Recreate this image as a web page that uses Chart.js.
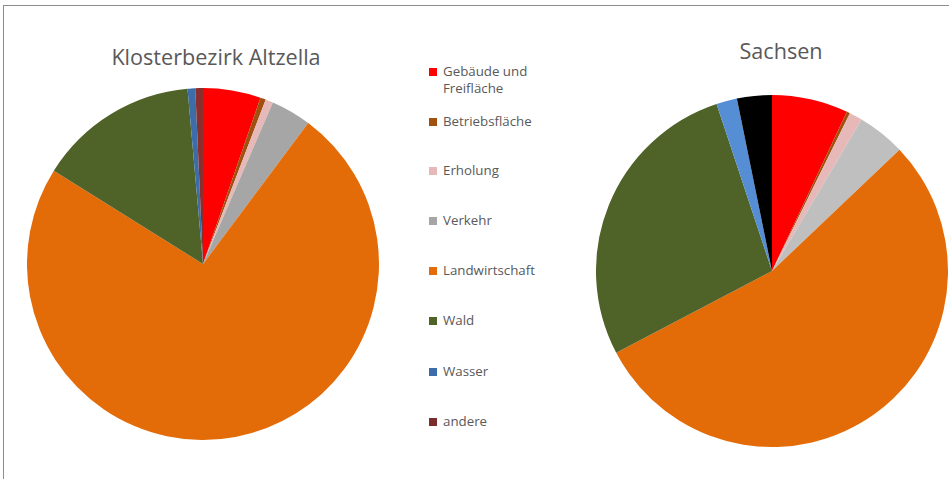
<!DOCTYPE html>
<html>
<head>
<meta charset="utf-8">
<script src="https://cdn.jsdelivr.net/npm/chart.js@4.4.1/dist/chart.umd.min.js"></script>
<style>
  html, body { margin: 0; padding: 0; background: #fff; width: 949px; height: 479px; overflow: hidden; }
  #frame { position: absolute; left: 3px; top: 5px; width: 960px; height: 490px; border-left: 1px solid #8c8c8c; border-top: 1px solid #8c8c8c; }
  .title { position: absolute; font-family: "Open Sans", Lato, sans-serif; font-size: 21.6px; color: #595959; white-space: nowrap; transform: translateX(-50%); }
  .pie { position: absolute; }
  #legend { position: absolute; left: 429px; top: 0; font-family: "Open Sans", Lato, sans-serif; font-size: 13.3px; color: #595959; }
  .item { position: absolute; left: 0; white-space: nowrap; line-height: 17px; }
  .sw { position: absolute; left: 0; top: 5px; width: 8px; height: 8px; }
  .lbl { position: absolute; left: 14px; top: 0; }
</style>
</head>
<body>
<div id="frame"></div>
<div class="title" id="t1" style="left:216px; top:42px;"></div>
<div class="title" id="t2" style="left:781px; top:36px;"></div>
<canvas id="c1" class="pie" width="352" height="352" style="left:27px; top:88px; width:352px; height:352px;"></canvas>
<canvas id="c2" class="pie" width="352" height="352" style="left:596px; top:95px; width:352px; height:352px;"></canvas>
<div id="legend"></div>
<script>
const categories = ["Gebäude und Freifläche", "Betriebsfläche", "Erholung", "Verkehr", "Landwirtschaft", "Wald", "Wasser", "andere"];
const legendLines = [["Gebäude und", "Freifläche"], ["Betriebsfläche"], ["Erholung"], ["Verkehr"], ["Landwirtschaft"], ["Wald"], ["Wasser"], ["andere"]];
const titles = ["Klosterbezirk Altzella", "Sachsen"];
const altzella = [5.3, 0.5, 0.7, 3.7, 73.7, 14.7, 0.7, 0.7];
const sachsen = [7.0, 0.3, 1.2, 4.4, 54.4, 27.6, 1.9, 3.2];
const colorsLeft = ["#FF0000", "#A0500F", "#E6B9B8", "#A6A6A6", "#E36C09", "#4F6228", "#3C6DA8", "#8B2E2E"];
const colorsRight = ["#FF0000", "#A0500F", "#E6B9B8", "#BFBFBF", "#E36C09", "#4F6228", "#558ED5", "#000000"];
const legendColors = ["#FF0000", "#A0500F", "#E6B9B8", "#A6A6A6", "#E36C09", "#4F6228", "#3C6DA8", "#7B2C2C"];
const legendTops = [63, 113, 162, 212, 262, 312, 363, 413];

document.getElementById('t1').textContent = titles[0];
document.getElementById('t2').textContent = titles[1];

const leg = document.getElementById('legend');
categories.forEach((c, i) => {
  const d = document.createElement('div');
  d.className = 'item';
  d.style.top = legendTops[i] + 'px';
  const sw = document.createElement('div');
  sw.className = 'sw';
  sw.style.background = legendColors[i];
  const l = document.createElement('div');
  l.className = 'lbl';
  l.innerHTML = legendLines[i].join('<br>');
  d.appendChild(sw); d.appendChild(l);
  leg.appendChild(d);
});

function makePie(id, data, colors) {
  new Chart(document.getElementById(id), {
    type: 'pie',
    data: { labels: categories, datasets: [{ data: data, backgroundColor: colors, borderWidth: 0 }] },
    options: {
      responsive: false, animation: false,
      layout: { padding: 0 },
      plugins: { legend: { display: false }, tooltip: { enabled: false }, title: { display: false } }
    }
  });
}
makePie('c1', altzella, colorsLeft);
makePie('c2', sachsen, colorsRight);
</script>
</body>
</html>
